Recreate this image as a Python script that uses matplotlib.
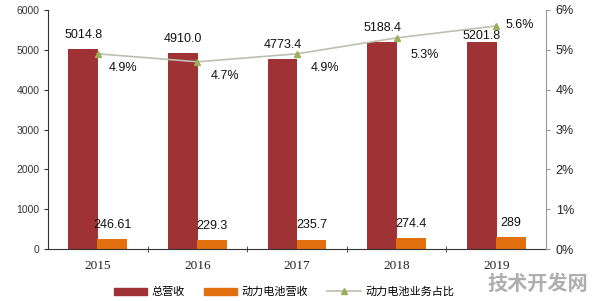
import matplotlib
matplotlib.use("Agg")
import matplotlib.pyplot as plt
import numpy as np
from matplotlib.lines import Line2D
from matplotlib.patches import Patch

years = ["2015", "2016", "2017", "2018", "2019"]
total_rev = [5014.8, 4910.0, 4773.4, 5188.4, 5201.8]
total_labels = ["5014.8", "4910.0", "4773.4", "5188.4", "5201.8"]
battery_rev = [246.61, 229.3, 235.7, 274.4, 289]
battery_labels = ["246.61", "229.3", "235.7", "274.4", "289"]
share_pct = [4.9, 4.7, 4.9, 5.3, 5.6]
share_labels = ["4.9%", "4.7%", "4.9%", "5.3%", "5.6%"]
legend_names = ["总营收", "动力电池营收", "动力电池业务占比"]

RED = "#9E3234"
ORANGE = "#E2700F"
LINEC = "#BCC0AE"
MARK = "#9BAF5A"

fig = plt.figure(figsize=(5.96, 3.01), dpi=100)
ax = fig.add_axes([48/596, 1-249/301, (546-48)/596, (249-10)/301])
ax2 = ax.twinx()

x = np.arange(len(years))
w = 0.30
off = 0.145
ax.bar(x - off, total_rev, width=w, color=RED, zorder=2)
ax.bar(x + off, battery_rev, width=w, color=ORANGE, zorder=2)

ax.set_xlim(-0.5, len(years) - 0.5)
ax.set_ylim(0, 6000)
ax.set_yticks(range(0, 6001, 1000))
ax.set_yticklabels([str(v) for v in range(0, 6001, 1000)],
                   fontsize=7.5, family="Liberation Sans", color="#333333")
ax.set_xticks(x)
ax.set_xticklabels(years, fontsize=9.5, family="Liberation Serif", color="#222222")
ax.set_xticks(np.arange(0.5, len(years) - 0.5, 1), minor=True)
ax.tick_params(axis="x", which="major", length=0, pad=8)
ax.tick_params(axis="x", which="minor", length=4, direction="inout", color="#333333")
ax.tick_params(axis="y", length=3, color="#333333", pad=3)
for s in ["top", "right"]:
    ax.spines[s].set_visible(False)
ax.spines["left"].set_color("#333333")
ax.spines["bottom"].set_color("#333333")

total_offsets = [6, 6, 6, 6, 0]
for i in range(len(years)):
    ax.annotate(total_labels[i], (x[i] - off, total_rev[i]), xytext=(0, total_offsets[i]),
                textcoords="offset points", ha="center", va="bottom",
                fontsize=9, family="Liberation Sans", color="#111111", zorder=5)
    ax.annotate(battery_labels[i], (x[i] + off, battery_rev[i]), xytext=(0, 6),
                textcoords="offset points", ha="center", va="bottom",
                fontsize=9, family="Liberation Sans", color="#111111", zorder=5)

share = [v / 100 for v in share_pct]
ax2.plot(x, share, color=LINEC, lw=1.2, marker="^", markersize=4.5,
         markerfacecolor=MARK, markeredgecolor=MARK, zorder=3)
ax2.set_ylim(0, 0.06)
ax2.set_yticks(np.arange(0, 0.0601, 0.01))
ax2.set_yticklabels([f"{i}%" for i in range(7)], fontsize=9,
                    family="Liberation Sans", color="#222222")
ax2.tick_params(axis="y", length=3, color="#999999", pad=4)
for s in ["top", "left", "bottom"]:
    ax2.spines[s].set_visible(False)
ax2.spines["right"].set_color("#999999")

pct_offsets = [(18, -10), (20, -10), (20, -10), (20, -12), (17, 1)]
for i in range(len(years)):
    ax2.annotate(share_labels[i], (x[i], share[i]), xytext=pct_offsets[i],
                 textcoords="offset points", ha="center", va="center",
                 fontsize=9, family="Liberation Sans", color="#111111", zorder=5)

handles = [Patch(color=RED), Patch(color=ORANGE),
           Line2D([0], [0], color=LINEC, lw=1.2, marker="^", markersize=4,
                  markerfacecolor=MARK, markeredgecolor=MARK)]
fig.legend(handles, legend_names, loc="center", bbox_to_anchor=(284/596, 1-292/301),
           ncol=3, frameon=False, prop={"family": "Noto Sans CJK SC", "size": 8.0},
           handlelength=3.0, handleheight=0.65, columnspacing=1.7, handletextpad=0.4)

fig.text(588/596, 1-283/301, "技术开发网", ha="right", va="center", fontsize=14.5,
         fontweight="bold", family="Noto Sans CJK SC", color="#9A9A9A", alpha=0.8)

fig.savefig("out.png", dpi=100)
